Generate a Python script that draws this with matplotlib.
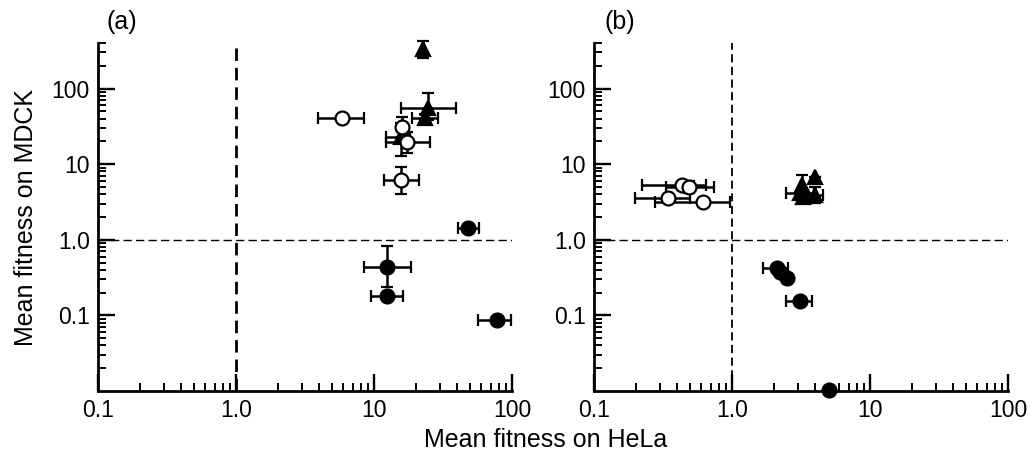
import matplotlib
matplotlib.use("Agg")
import matplotlib.pyplot as plt
from matplotlib.ticker import FixedLocator, FixedFormatter, LogLocator, NullFormatter
import numpy as np

plt.rcParams['font.family'] = ['Liberation Sans', 'DejaVu Sans']

# ---- panel (a) ----
a_tri_x = [22.6, 24.6, 23.4, 15.7]
a_tri_y = [336, 54.6, 40.3, 22.7]
a_tri_xlo = [22.6, 15.7, 18.9, 12.2]
a_tri_xhi = [22.6, 39.3, 29.1, 18.2]
a_tri_ylo = [256, 38, 35, 12.7]
a_tri_yhi = [430, 86, 46, 35]

a_open_x = [5.87, 16.0, 17.3, 15.7]
a_open_y = [40.3, 30.7, 19.5, 6.16]
a_open_xlo = [3.93, 16.0, 12.2, 11.8]
a_open_xhi = [8.47, 16.0, 25.5, 21.2]
a_open_ylo = [40.3, 22.7, 14.0, 4.03]
a_open_yhi = [40.3, 41.5, 27, 9.1]

a_fill_x = [48, 12.4, 12.4, 77.9]
a_fill_y = [1.44, 0.441, 0.178, 0.086]
a_fill_xlo = [40.6, 8.47, 9.5, 56.7]
a_fill_xhi = [57.7, 18.5, 16.2, 98]
a_fill_ylo = [1.44, 0.234, 0.178, 0.086]
a_fill_yhi = [1.44, 0.834, 0.178, 0.086]

# ---- panel (b) ----
b_tri_x = [3.99, 3.22, 3.11, 3.99, 3.27]
b_tri_y = [6.74, 5.29, 4.15, 3.91, 3.68]
b_tri_xlo = [3.99, 3.22, 2.46, 3.55, 3.27]
b_tri_xhi = [3.99, 3.22, 3.9, 4.57, 3.27]
b_tri_ylo = [6.74, 3.9, 4.15, 3.07, 3.07]
b_tri_yhi = [6.74, 7.17, 4.15, 5.0, 4.4]

b_open_x = [0.434, 0.488, 0.344, 0.617]
b_open_y = [5.29, 4.98, 3.57, 3.16]
b_open_xlo = [0.223, 0.33, 0.198, 0.277]
b_open_xhi = [0.648, 0.74, 0.50, 0.97]
b_open_ylo = [5.29, 4.15, 3.57, 2.9]
b_open_yhi = [5.29, 5.9, 3.57, 3.4]

b_fill_x = [2.12, 2.23, 2.51, 3.11, 5.05]
b_fill_y = [0.428, 0.379, 0.316, 0.153, 0.0103]
b_fill_xlo = [1.68, 2.23, 2.51, 2.46, 5.05]
b_fill_xhi = [2.55, 2.23, 2.51, 3.8, 5.05]
b_fill_ylo = [0.428, 0.379, 0.316, 0.153, 0.0103]
b_fill_yhi = [0.428, 0.379, 0.316, 0.153, 0.0103]

x_ticks = [0.1, 1.0, 10, 100]
x_tick_labels = ['0.1', '1.0', '10', '100']
y_ticks = [0.1, 1.0, 10, 100]
y_tick_labels = ['0.1', '1.0', '10', '100']


def draw_group(ax, x, y, xlo, xhi, ylo, yhi, marker, face):
    x = np.array(x); y = np.array(y)
    xerr = [x - np.array(xlo), np.array(xhi) - x]
    yerr = [y - np.array(ylo), np.array(yhi) - y]
    ax.errorbar(x, y, xerr=xerr, yerr=yerr, fmt=marker, ms=10,
                mfc=face, mec='black', mew=1.6, color='black',
                elinewidth=1.8, capsize=4, capthick=1.8,
                clip_on=False, zorder=3)


fig = plt.figure(figsize=(10.35, 4.54), dpi=100)
ax_a = fig.add_axes([98 / 1035, 1 - 391 / 454, 414 / 1035, 348 / 454])
ax_b = fig.add_axes([594 / 1035, 1 - 391 / 454, 414 / 1035, 348 / 454])

for ax, vlw in ((ax_a, 2.0), (ax_b, 1.3)):
    ax.set_xscale('log')
    ax.set_yscale('log')
    ax.set_xlim(0.1, 100)
    ax.set_ylim(0.01, 400)
    ax.spines['top'].set_visible(False)
    ax.spines['right'].set_visible(False)
    ax.spines['left'].set_linewidth(2.0)
    ax.spines['bottom'].set_linewidth(2.0)
    ax.xaxis.set_major_locator(FixedLocator(x_ticks))
    ax.xaxis.set_major_formatter(FixedFormatter(x_tick_labels))
    ax.yaxis.set_major_locator(FixedLocator(y_ticks))
    ax.yaxis.set_major_formatter(FixedFormatter(y_tick_labels))
    ax.xaxis.set_minor_locator(LogLocator(base=10, subs=np.arange(2, 10), numticks=20))
    ax.yaxis.set_minor_locator(LogLocator(base=10, subs=np.arange(2, 10), numticks=20))
    ax.xaxis.set_minor_formatter(NullFormatter())
    ax.yaxis.set_minor_formatter(NullFormatter())
    ax.tick_params(which='major', direction='in', length=12, width=1.7,
                   labelsize=16.5, pad=6)
    ax.tick_params(which='minor', direction='in', length=6, width=1.4)
    ax.axhline(1.0, color='black', lw=1.0, ls=(0, (6, 3)), zorder=1)
    ax.axvline(1.0, color='black', lw=vlw, ls=(0, (4.5, 2.5)), zorder=1)

draw_group(ax_a, a_tri_x, a_tri_y, a_tri_xlo, a_tri_xhi, a_tri_ylo, a_tri_yhi, '^', 'black')
draw_group(ax_a, a_open_x, a_open_y, a_open_xlo, a_open_xhi, a_open_ylo, a_open_yhi, 'o', 'white')
draw_group(ax_a, a_fill_x, a_fill_y, a_fill_xlo, a_fill_xhi, a_fill_ylo, a_fill_yhi, 'o', 'black')

draw_group(ax_b, b_tri_x, b_tri_y, b_tri_xlo, b_tri_xhi, b_tri_ylo, b_tri_yhi, '^', 'black')
draw_group(ax_b, b_open_x, b_open_y, b_open_xlo, b_open_xhi, b_open_ylo, b_open_yhi, 'o', 'white')
draw_group(ax_b, b_fill_x, b_fill_y, b_fill_xlo, b_fill_xhi, b_fill_ylo, b_fill_yhi, 'o', 'black')

ax_a.text(0.058, 1.06, '(a)', transform=ax_a.transAxes, fontsize=18,
          ha='center', va='center')
ax_b.text(0.063, 1.06, '(b)', transform=ax_b.transAxes, fontsize=18,
          ha='center', va='center')

ax_a.set_ylabel('Mean fitness on MDCK', fontsize=18, labelpad=10)
fig.text(546 / 1035, 1 - 440 / 454, 'Mean fitness on HeLa', fontsize=18,
         ha='center', va='center')

fig.savefig('out.png', dpi=100)
